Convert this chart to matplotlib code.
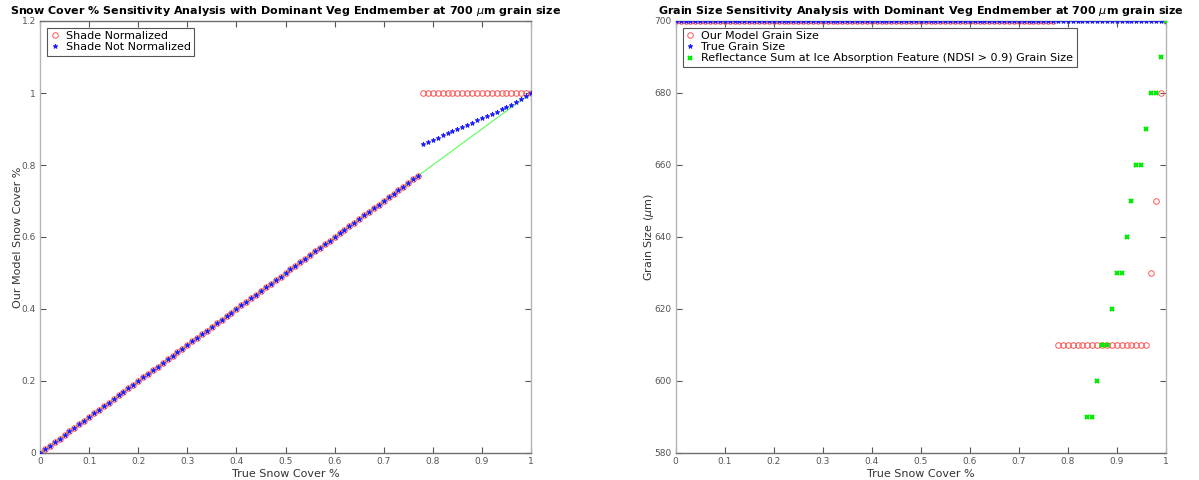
import numpy as np
import matplotlib
matplotlib.use("Agg")
import matplotlib.pyplot as plt

# true snow cover fraction, 0 to 1 in steps of 0.01
snow_true = np.round(np.linspace(0, 1, 101), 2)

# modelled snow cover, shade normalized: follows truth to 0.77, then saturates
shade_norm = np.concatenate([snow_true[:78], [1.0] * 23])

# modelled snow cover without shade normalization
shade_raw_tail = [0.858, 0.864, 0.870, 0.876, 0.882, 0.888, 0.894, 0.900,
                  0.906, 0.912, 0.918, 0.924, 0.930, 0.936, 0.942, 0.948,
                  0.955, 0.961, 0.968, 0.975, 0.983, 0.991, 1.000]
shade_raw = np.concatenate([snow_true[:78], shade_raw_tail])

# grain size results (um)
model_tail = [610] * 19 + [630, 650, 680, 700]
model_grain = np.concatenate([[700] * 78, model_tail]).astype(float)
true_grain = np.full(101, 700.0)
ndsi_tail = [590, 590, 600, 610, 610, 620, 630, 630, 640, 650, 660, 660,
             670, 680, 680, 690, 700]
ndsi_grain = np.concatenate([[np.nan] * 84, ndsi_tail])

RED = '#ff5555'
BLUE = '#1a1aff'
GREEN = '#00ee00'

fig = plt.figure(figsize=(11.99, 4.8), dpi=100)
ax1 = fig.add_axes([40 / 1199, 1 - 453 / 480, 491 / 1199, 432 / 480])
ax2 = fig.add_axes([675.7 / 1199, 1 - 453 / 480, 490 / 1199, 432 / 480])


def style_axes(ax):
    for side in ['top', 'bottom']:
        ax.spines[side].set_color('#6e6e6e')
    for side in ['left', 'right']:
        ax.spines[side].set_color('#b4b4b4')
    for sp in ax.spines.values():
        sp.set_linewidth(1.0)
    ax.tick_params(direction='in', length=4, width=0.8, color='#555555',
                   labelsize=6.5, labelcolor='#555555', top=True, right=True,
                   pad=3)


def add_legend(ax):
    leg = ax.legend(loc='upper left', fontsize=8, handlelength=0.8,
                    handletextpad=0.6, borderpad=0.3, labelspacing=0.1,
                    fancybox=False, framealpha=1, borderaxespad=0,
                    bbox_to_anchor=(0.014, 0.984))
    leg.get_frame().set_edgecolor('#555555')
    leg.get_frame().set_linewidth(0.8)


# left: snow cover fraction
ax1.plot(snow_true, snow_true, color='#55ff55', lw=0.8, zorder=1)
ax1.plot(snow_true, shade_norm, 'o', mfc='none', mec=RED, ms=4, mew=0.7,
         label='Shade Normalized', zorder=2)
ax1.plot(snow_true, shade_raw, '*', color=BLUE, ms=3.5, mew=0.6,
         label='Shade Not Normalized', zorder=3)
ax1.set_xlim(0, 1)
ax1.set_ylim(0, 1.2)
ax1.set_xticks(np.arange(0, 1.01, 0.1))
ax1.set_xticklabels(['0', '0.1', '0.2', '0.3', '0.4', '0.5', '0.6', '0.7',
                     '0.8', '0.9', '1'])
ax1.set_yticks(np.arange(0, 1.21, 0.2))
ax1.set_yticklabels(['0', '0.2', '0.4', '0.6', '0.8', '1', '1.2'])
style_axes(ax1)
ax1.set_xlabel('True Snow Cover %', fontsize=8, color='#333333', labelpad=2)
ax1.set_ylabel('Our Model Snow Cover %', fontsize=8, color='#333333',
               labelpad=-1)
ax1.set_title(r'Snow Cover % Sensitivity Analysis with Dominant Veg Endmember at 700 $\mu$m grain size',
              fontsize=8, fontweight='bold', pad=5)
add_legend(ax1)

# right: grain size
ax2.plot(snow_true, model_grain, 'o', mfc='none', mec=RED, ms=4, mew=0.7,
         label='Our Model Grain Size', zorder=2)
ax2.plot(snow_true, true_grain, '*', color=BLUE, ms=3.5, mew=0.6,
         label='True Grain Size', zorder=3)
ax2.plot(snow_true, ndsi_grain, 'x', color=GREEN, ms=3, mew=1.5,
         label='Reflectance Sum at Ice Absorption Feature (NDSI > 0.9) Grain Size',
         zorder=4)
ax2.set_xlim(0, 1)
ax2.set_ylim(580, 700)
ax2.set_xticks(np.arange(0, 1.01, 0.1))
ax2.set_xticklabels(['0', '0.1', '0.2', '0.3', '0.4', '0.5', '0.6', '0.7',
                     '0.8', '0.9', '1'])
ax2.set_yticks(np.arange(580, 701, 20))
style_axes(ax2)
ax2.set_xlabel('True Snow Cover %', fontsize=8, color='#333333', labelpad=2)
ax2.set_ylabel(r'Grain Size ($\mu$m)', fontsize=8, color='#333333',
               labelpad=-1)
ax2.set_title(r'Grain Size Sensitivity Analysis with Dominant Veg Endmember at 700 $\mu$m grain size',
              fontsize=8, fontweight='bold', pad=5)
add_legend(ax2)

fig.savefig('out.png', dpi=100)
